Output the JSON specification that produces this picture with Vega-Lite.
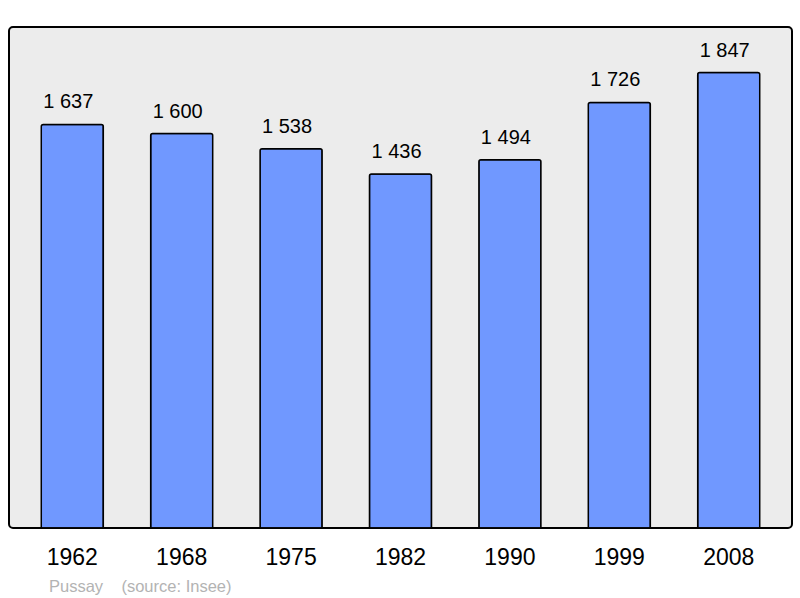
{
  "$schema": "https://vega.github.io/schema/vega-lite/v6.json",
  "autosize": "none",
  "width": 783,
  "height": 501,
  "padding": {"left": 9, "top": 27, "right": 8, "bottom": 70},
  "background": "white",
  "config": {
    "view": {"fill": "#ececec", "stroke": "#000000", "strokeWidth": 2, "cornerRadius": 4},
    "font": "Liberation Sans"
  },
  "title": {
    "text": "Pussay\u00a0\u00a0\u00a0\u00a0(source: Insee)",
    "orient": "bottom",
    "anchor": "start",
    "fontSize": 16.5,
    "fontWeight": "normal",
    "color": "#b3b3b3",
    "font": "Liberation Sans",
    "dx": 40,
    "offset": 10
  },
  "data": {
    "values": [
      {"year": "1962", "pop": 1637, "label": "1 637"},
      {"year": "1968", "pop": 1600, "label": "1 600"},
      {"year": "1975", "pop": 1538, "label": "1 538"},
      {"year": "1982", "pop": 1436, "label": "1 436"},
      {"year": "1990", "pop": 1494, "label": "1 494"},
      {"year": "1999", "pop": 1726, "label": "1 726"},
      {"year": "2008", "pop": 1847, "label": "1 847"}
    ]
  },
  "encoding": {
    "x": {
      "field": "year",
      "type": "ordinal",
      "sort": null,
      "scale": {"paddingInner": 0.433, "paddingOuter": 0.295},
      "axis": {
        "title": null,
        "ticks": false,
        "domain": false,
        "labelAngle": 0,
        "labelFontSize": 23,
        "labelColor": "#000000",
        "labelBaseline": "alphabetic",
        "labelPadding": 36,
        "labelFont": "Liberation Sans"
      }
    },
    "y": {
      "field": "pop",
      "type": "quantitative",
      "scale": {"domain": [0, 2032], "nice": false, "zero": true},
      "axis": null
    }
  },
  "layer": [
    {
      "mark": {"type": "bar", "fill": "#7098ff", "stroke": "#000000", "strokeWidth": 1.5, "cornerRadiusTopLeft": 2, "cornerRadiusTopRight": 2}
    },
    {
      "mark": {"type": "text", "fontSize": 20, "color": "#000000", "baseline": "alphabetic", "dy": -16, "dx": -4, "font": "Liberation Sans"},
      "encoding": {"text": {"field": "label"}}
    }
  ]
}
